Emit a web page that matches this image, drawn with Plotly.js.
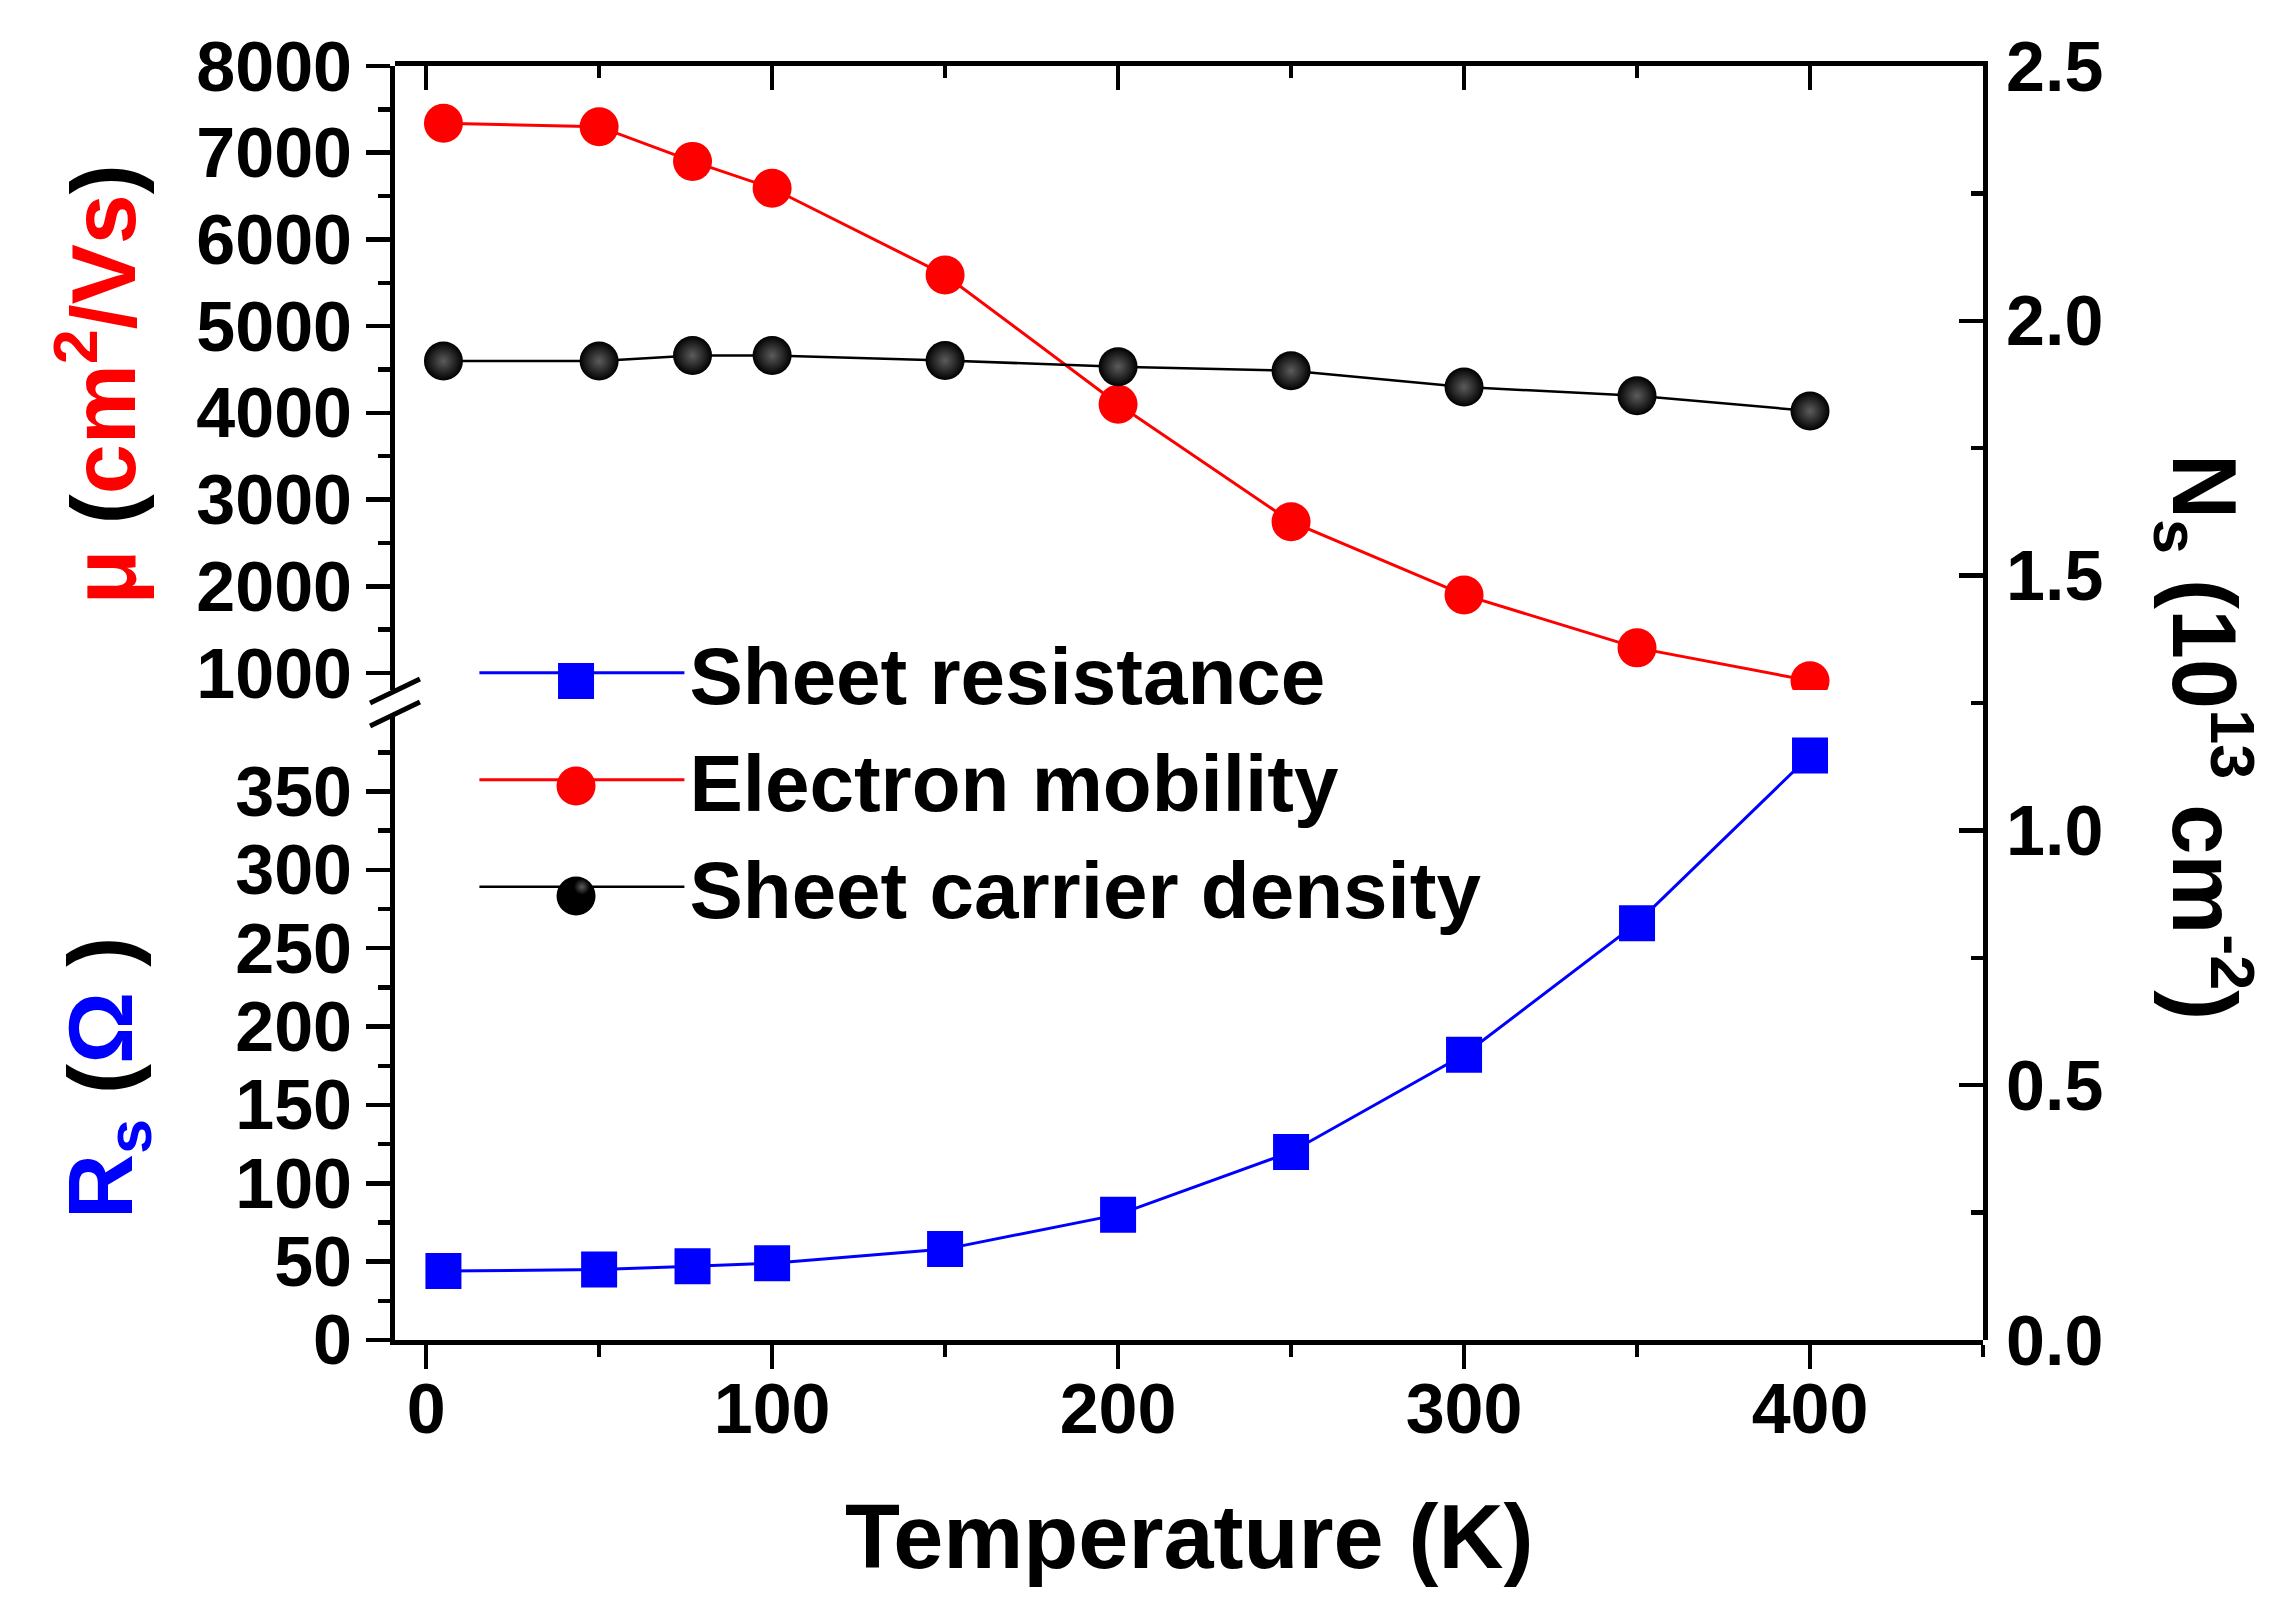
<!DOCTYPE html>
<html>
<head>
<meta charset="utf-8">
<script src="https://cdn.plot.ly/plotly-3.0.1.min.js"></script>
<style>
  html, body { margin: 0; padding: 0; background: #fff; }
  #chart { width: 2288px; height: 1604px; }
</style>
</head>
<body>
<div id="chart"></div>
<script>
const temperature = [5, 50, 77, 100, 150, 200, 250, 300, 350, 400];
const sheetResistance = [44, 45, 47, 49, 58, 80, 120, 182, 266, 373];
const mobility = [7340, 7300, 6900, 6590, 5590, 4100, 2745, 1900, 1290, 910];
const carrierDensity = [1.921, 1.921, 1.932, 1.932, 1.922, 1.910, 1.902, 1.870, 1.853, 1.823];

const seriesNames = ['Sheet resistance', 'Electron mobility', 'Sheet carrier density'];

const FONT = 'Liberation Sans, Arial, sans-serif';

const traces = [
  {
    x: temperature, y: sheetResistance, name: seriesNames[0],
    xaxis: 'x', yaxis: 'y2', mode: 'lines+markers',
    line: { color: '#0000ff', width: 3 },
    marker: { symbol: 'square', size: 36, color: '#0000ff' }
  },
  {
    x: temperature, y: mobility, name: seriesNames[1],
    xaxis: 'x', yaxis: 'y3', mode: 'lines+markers',
    line: { color: '#ff0000', width: 3 },
    marker: { symbol: 'circle', size: 39, color: '#ff0000' }
  },
  {
    // 위쪽 x축(x2)에 붙여서 윗변 눈금이 그려지게 함
    x: temperature, y: carrierDensity, name: seriesNames[2],
    xaxis: 'x2', yaxis: 'y', mode: 'lines+markers',
    line: { color: '#000000', width: 2.5 },
    marker: { symbol: 'circle', size: 39, color: '#000000',
              gradient: { type: 'radial', color: '#5c5c5c' } }
  }
];

const tickFont = { family: FONT, size: 70, color: '#000', weight: 700 };
const minorOut = { ticks: 'outside', ticklen: 12, tickwidth: 4.5, tickcolor: '#000' };
const minorIn = { ticks: 'inside', ticklen: 12, tickwidth: 4.5, tickcolor: '#000' };
const axisCommon = {
  showgrid: false, zeroline: false, showline: true,
  linecolor: '#000', linewidth: 5,
  ticklen: 24, tickwidth: 4.5, tickcolor: '#000',
  tickfont: tickFont
};

// 범례 기호 (Plotly 범례 마커는 크기 제한이 있어서 모양으로 덧그림)
const legendKeyX = 0.114;
const legendKeyY = [0.5172, 0.4348, 0.3485];
function keyShape(type, cy, half, color) {
  return {
    type: type, layer: 'above', xref: 'paper', yref: 'paper',
    xsizemode: 'pixel', ysizemode: 'pixel',
    xanchor: legendKeyX, yanchor: cy,
    x0: -half, x1: half, y0: -half, y1: half,
    fillcolor: color, line: { width: 0 }
  };
}

const layout = {
  width: 2288, height: 1604,
  margin: { l: 395, r: 305, t: 66, b: 264 },
  paper_bgcolor: '#fff', plot_bgcolor: 'rgba(0,0,0,0)',
  font: { family: FONT, color: '#000' },
  showlegend: true,
  legend: {
    x: 0.05, y: 0.4397, xanchor: 'left', yanchor: 'middle',
    bgcolor: 'rgba(0,0,0,0)', borderwidth: 0,
    font: { family: FONT, size: 80, color: '#000', weight: 700 },
    itemsizing: 'trace', itemwidth: 205, tracegroupgap: 0
  },
  xaxis: Object.assign({}, axisCommon, {
    range: [-9, 450], anchor: 'y', side: 'bottom',
    ticks: 'outside', tick0: 0, dtick: 100, ticklabelstandoff: -20,
    minor: Object.assign({ dtick: 50 }, minorOut)
  }),
  xaxis2: Object.assign({}, axisCommon, {
    range: [-9, 450], overlaying: 'x', anchor: 'y', side: 'top',
    ticks: 'inside', tick0: 0, dtick: 100, showticklabels: false,
    minor: Object.assign({ dtick: 50 }, minorIn)
  }),
  // Ns (오른쪽, 전체 높이)
  yaxis: Object.assign({}, axisCommon, {
    range: [0, 2.5], domain: [0, 1], anchor: 'x', side: 'right',
    ticks: 'inside', tick0: 0, dtick: 0.5, tickformat: '.1f',
    ticklabelstandoff: 4,
    minor: Object.assign({ dtick: 0.25 }, minorIn)
  }),
  // Rs (왼쪽 아래)
  yaxis2: Object.assign({}, axisCommon, {
    range: [0, 399.5], domain: [0, 0.4914], anchor: 'x', side: 'left',
    ticks: 'outside', tick0: 0, dtick: 50,
    minor: Object.assign({ dtick: 25 }, minorOut)
  }),
  // mu (왼쪽 위)
  yaxis3: Object.assign({}, axisCommon, {
    range: [804, 8000], domain: [0.5102, 1], anchor: 'x', side: 'left',
    ticks: 'outside', tick0: 0, dtick: 1000,
    minor: Object.assign({ dtick: 500 }, minorOut)
  }),
  shapes: [
    // 축 끊김 표시
    { type: 'line', xref: 'paper', yref: 'paper', x0: -0.0157, x1: 0.0157, y0: 0.5, y1: 0.5188,
      line: { color: '#000', width: 5 } },
    { type: 'line', xref: 'paper', yref: 'paper', x0: -0.0157, x1: 0.0157, y0: 0.482, y1: 0.5008,
      line: { color: '#000', width: 5 } },
    keyShape('rect', legendKeyY[0], 18, '#0000ff'),
    keyShape('circle', legendKeyY[1], 19.5, '#ff0000'),
    keyShape('circle', legendKeyY[2], 19.5, '#000000')
  ],
  annotations: [
    { xref: 'paper', yref: 'paper', x: 0.5, y: -0.1546, xanchor: 'center', yanchor: 'middle',
      text: 'Temperature (K)', showarrow: false,
      font: { family: FONT, size: 90, color: '#000', weight: 700 } },
    { xref: 'paper', yref: 'paper', x: -0.1877, y: 0.750, xanchor: 'center', yanchor: 'middle',
      textangle: -90, showarrow: false,
      text: '<span style="color:#ff0000">μ</span> (<span style="color:#ff0000">cm<sup>2</sup>/Vs</span>)',
      font: { family: FONT, size: 90, color: '#000', weight: 700 } },
    { xref: 'paper', yref: 'paper', x: -0.1807, y: 0.2057, xanchor: 'center', yanchor: 'middle',
      textangle: -90, showarrow: false,
      text: '<span style="color:#0000ff">R<sub>s</sub></span> (<span style="color:#0000ff">Ω</span> )',
      font: { family: FONT, size: 90, color: '#000', weight: 700 } },
    { xref: 'paper', yref: 'paper', x: 1.1398, y: 0.4733, xanchor: 'center', yanchor: 'middle',
      textangle: 90, showarrow: false,
      text: 'N<sub>s</sub> (10<sup>13</sup> cm<sup>-2</sup>)',
      font: { family: FONT, size: 90, color: '#000', weight: 700 } }
  ]
};

Plotly.newPlot('chart', traces, layout, { staticPlot: true });
</script>
</body>
</html>
